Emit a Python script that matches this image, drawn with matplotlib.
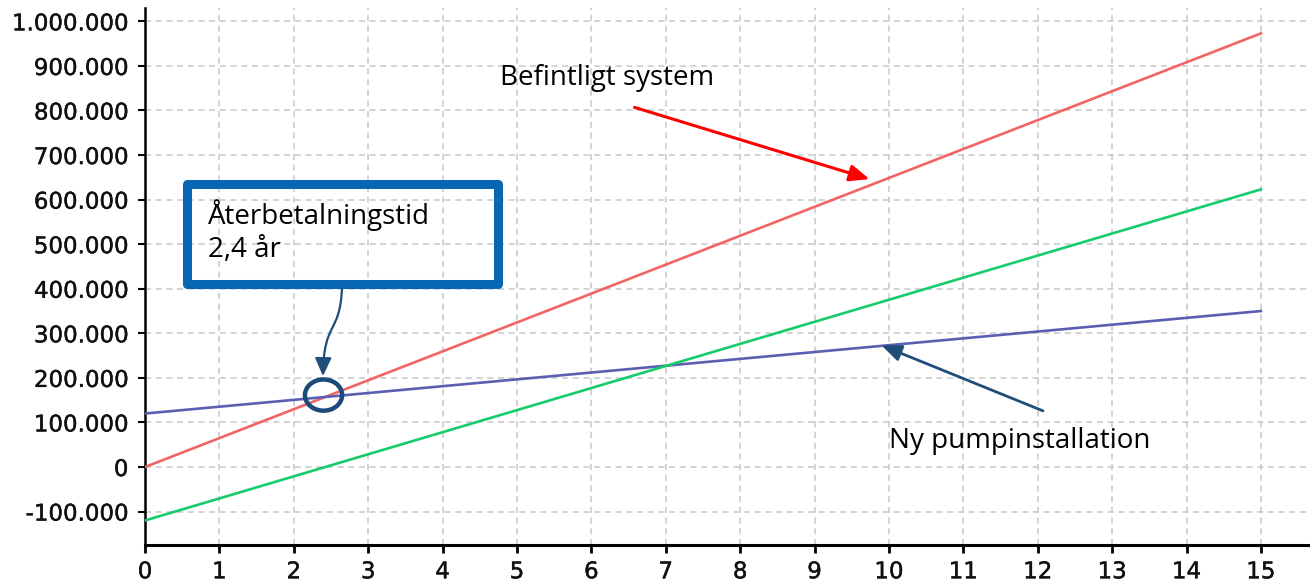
import matplotlib.pyplot as plt
import matplotlib.patches as mpatches
import matplotlib.patheffects as pe
from matplotlib.path import Path
from matplotlib.ticker import FuncFormatter

# years (line end points)
years = [0, 15]
befintligt = [0, 973000]        # existing system, cumulative cost
ny_pump = [120000, 350000]      # new pump installation
besparing = [-120000, 623000]   # difference

xticks = list(range(0, 16))
yticks = list(range(-100000, 1000001, 100000))

fig = plt.figure(figsize=(13.1, 5.84), dpi=100)
ax = fig.add_axes([145 / 1310, 1 - 545 / 584, 1 - 145 / 1310, (545 - 8) / 584])

ax.plot(years, befintligt, color='#f26464', lw=1.9, zorder=3)
ax.plot(years, ny_pump, color='#5b5fb4', lw=1.9, zorder=3)
ax.plot(years, besparing, color='#14cc6a', lw=1.9, zorder=3)

ax.set_xlim(0, 15.66)
ax.set_ylim(-175000, 1030000)
ax.set_xticks(xticks)
ax.set_yticks(yticks)
ax.yaxis.set_major_formatter(FuncFormatter(lambda v, p: f'{int(v):,}'.replace(',', '.')))

ax.grid(True, color='#c8c8c8', ls=(0, (4, 3)), lw=1.1)
ax.set_axisbelow(True)
for s in ['top', 'right']:
    ax.spines[s].set_visible(False)
ax.spines['bottom'].set_linewidth(2.2)
ax.spines['left'].set_linewidth(1.8)
ax.spines['left'].set_linestyle((0, (2.5, 1)))
ax.tick_params(axis='y', length=5, width=1.5, pad=7, labelsize=16.5)
ax.tick_params(axis='x', length=6, width=2, pad=5, labelsize=16.5)
for t in ax.get_xticklabels() + ax.get_yticklabels():
    t.set_family('DejaVu Sans')
    t.set_color('#111111')
    t.set_path_effects([pe.withStroke(linewidth=0.3, foreground='#111111')])

txt = dict(family='Open Sans', fontsize=20, color='black')

# Befintligt system
ax.text(4.77, 872000, 'Befintligt system', va='center', ha='left', **txt)
ax.annotate('', xy=(9.74, 646000), xytext=(6.58, 807000),
            arrowprops=dict(arrowstyle='-|>,head_length=1.2,head_width=0.5',
                            color='#ff0000', lw=2.2, shrinkA=0, shrinkB=0))

# Ny pumpinstallation
ax.text(10.0, 58000, 'Ny pumpinstallation', va='center', ha='left', **txt)
ax.annotate('', xy=(9.9, 273000), xytext=(12.07, 126000),
            arrowprops=dict(arrowstyle='-|>,head_length=1.2,head_width=0.5',
                            color='#1f4e79', lw=2.0, shrinkA=0, shrinkB=0))

# payback box
box = mpatches.Rectangle((0.565, 410300), 4.18, 224200, fill=False,
                         edgecolor='#0767b4', lw=6.5, joinstyle='round', zorder=5)
ax.add_patch(box)
ax.text(0.85, 566000, 'Återbetalningstid', va='center', ha='left', zorder=6, **txt)
ax.text(0.85, 488000, '2,4 år', va='center', ha='left', zorder=6, **txt)

# curved arrow from box to intersection
verts = [(2.648, 401300), (2.62, 296000), (2.405, 330000), (2.392, 204000)]
path = Path(verts, [Path.MOVETO, Path.CURVE4, Path.CURVE4, Path.CURVE4])
arr = mpatches.FancyArrowPatch(path=path, arrowstyle='-|>,head_length=11,head_width=5',
                               color='#1f4e79', lw=1.6, zorder=6)
ax.add_patch(arr)

ell = mpatches.Ellipse((2.40, 161400), 0.50, 70000, fill=False,
                       edgecolor='#1a4a7a', lw=3.2, zorder=6)
ax.add_patch(ell)

fig.savefig('out.png', dpi=100)
